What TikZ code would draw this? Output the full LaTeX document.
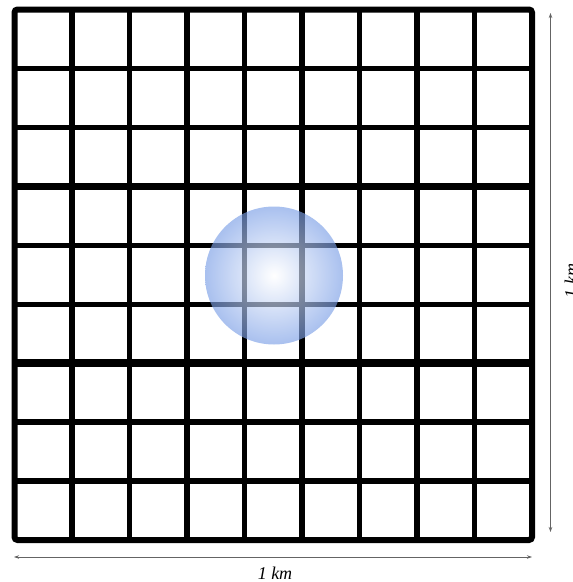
\documentclass[tikz,border=0pt]{standalone}
\usepackage{fontspec}
\setmainfont{Liberation Serif}
\usepackage{xcolor}
\definecolor{cellblue}{RGB}{70,120,220}
\definecolor{rulergray}{RGB}{100,100,100}
\usetikzlibrary{arrows.meta}
\pgfdeclareradialshading{bubble}{\pgfpoint{0bp}{0bp}}{color(0bp)=(white); color(35bp)=(cellblue); color(50bp)=(cellblue)}

\begin{document}
\begin{tikzpicture}[
    x=1pt, y=-1pt,
    gridline/.style={line width=5.5pt, black, line cap=rect},
    thickline/.style={line width=7.5pt, black},
    outerbox/.style={line width=6pt, black, rounded corners=3pt},
    cover/.style={shading=bubble, opacity=0.65},
    ruler/.style={{Stealth[length=5pt,width=3.5pt]}-{Stealth[length=5pt,width=3.5pt]}, line width=0.8pt, rulergray},
    dimlabel/.style={font=\itshape\fontsize{18}{20}\selectfont, inner sep=0pt},
]
\useasboundingbox (0,0) rectangle (573,582);

% grid of 9 x 9 cells
\coordinate (nw) at (14.5,9.5);
\coordinate (se) at (532,540);
\foreach \i in {1,...,8} {
  \draw[gridline] ({14.5+\i*57.5},9.5) -- ({14.5+\i*57.5},540);
}
\foreach \i in {1,2,4,5,7,8} {
  \draw[gridline] (14.5,{9.5+\i*58.95}) -- (532,{9.5+\i*58.95});
}
\foreach \i in {3,6} {
  \draw[thickline] (14.5,{9.5+\i*58.95}) -- (532,{9.5+\i*58.95});
}
\draw[outerbox] (nw) rectangle (se);

% covered area
\node[cover, circle, minimum size=138pt, inner sep=0pt] (zone) at (274,275.5) {};

% dimensions
\coordinate (bl) at (14,557);
\coordinate (br) at (532,557);
\coordinate (rt) at (550.5,13);
\coordinate (rb) at (550.5,532);
\draw[ruler] (bl) -- (br);
\draw[ruler] (rt) -- (rb);
\node[dimlabel, anchor=base] (wlabel) at (275,579) {1 km};
\node[dimlabel, rotate=90, anchor=base] (hlabel) at (577,281) {1 km};

\end{tikzpicture}
\end{document}
